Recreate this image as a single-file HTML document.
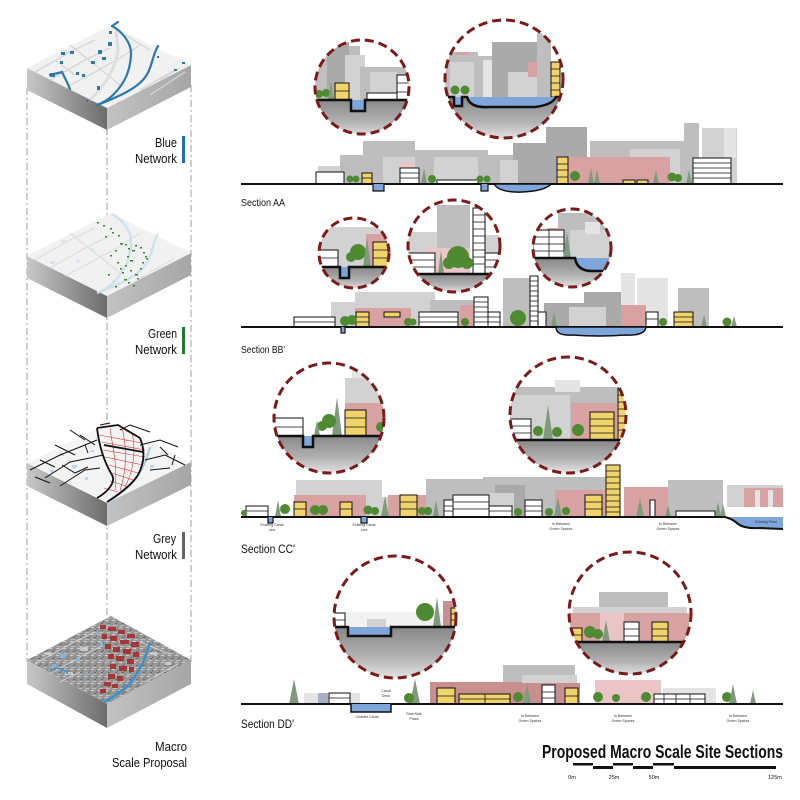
<!DOCTYPE html>
<html><head><meta charset="utf-8"><style>
html,body{margin:0;padding:0;background:#fff;}
svg{display:block}
text{font-family:"Liberation Sans Narrow","Liberation Sans",sans-serif;fill:#111}
.g1{fill:#aaaaaa}.g2{fill:#bebebe}.g3{fill:#d2d2d2}.g4{fill:#e4e4e4}
.pk{fill:#d8a2a2}.pl{fill:#ebc5c5}.pd{fill:#c88f8f}
.yl{fill:#f1d36b;stroke:#111;stroke-width:1}
.wh{fill:#fff;stroke:#111;stroke-width:1}
.wt{fill:#7ea6da}
.t{fill:#4e8a32}.c{fill:#7f9a7c}
.fl{stroke:#111;stroke-width:0.8;fill:none}
.sd{fill:url(#soil)}
.ring{fill:none;stroke:#7a1b1b;stroke-width:3;stroke-dasharray:9 5}
.gl{stroke:#111;stroke-width:2;fill:none}
.gc{stroke:#111;stroke-width:2.5;fill:none}
.sm{font-size:3.6px;text-anchor:middle;fill:#333}
</style></head><body>
<svg width="800" height="800" viewBox="0 0 800 800" xmlns="http://www.w3.org/2000/svg">
<defs>
<linearGradient id="lf" x1="0" y1="0" x2="1" y2="0"><stop offset="0" stop-color="#c8c8c8"/><stop offset="1" stop-color="#6c6c6c"/></linearGradient>
<linearGradient id="rf" x1="0" y1="0" x2="1" y2="0"><stop offset="0" stop-color="#c2c2c2"/><stop offset="1" stop-color="#a6a6a6"/></linearGradient>
<linearGradient id="soil" x1="0" y1="0" x2="0" y2="1"><stop offset="0" stop-color="#888"/><stop offset="0.55" stop-color="#b3b3b3"/><stop offset="1" stop-color="#ececec"/></linearGradient>
<pattern id="sat" width="7" height="7" patternUnits="userSpaceOnUse"><rect width="7" height="7" fill="#979797"/><rect x="0" y="0" width="3" height="1" fill="#cfcfcf"/><rect x="3" y="3" width="2" height="1" fill="#6a6a6a"/><rect x="1" y="5" width="4" height="1" fill="#bdbdbd"/><rect x="5" y="1" width="1" height="2" fill="#777"/></pattern>
<clipPath id="cA1"><circle cx="362" cy="87" r="47"/></clipPath>
<clipPath id="cA2"><circle cx="504" cy="79" r="59"/></clipPath>
<clipPath id="cB1"><circle cx="354" cy="253" r="35"/></clipPath>
<clipPath id="cB2"><circle cx="454" cy="246" r="46"/></clipPath>
<clipPath id="cB3"><circle cx="572" cy="248" r="39"/></clipPath>
<clipPath id="cC1"><circle cx="329" cy="418" r="55"/></clipPath>
<clipPath id="cC2"><circle cx="568" cy="415" r="58"/></clipPath>
<clipPath id="cD1"><circle cx="395" cy="617" r="61"/></clipPath>
<clipPath id="cD2"><circle cx="630" cy="613" r="61"/></clipPath>
</defs>

<!-- ===== LEFT COLUMN ===== -->
<g stroke="#b3b3b3" stroke-width="1.3" stroke-dasharray="7 3 2 3" fill="none">
<line x1="27" y1="88" x2="27" y2="662"/>
<line x1="107" y1="128" x2="107" y2="640"/>
<line x1="191" y1="85" x2="191" y2="662"/>
</g>

<!-- Block 1 -->
<g>
<polygon points="27,68 107,108 107,130 27,90" fill="url(#lf)"/>
<polygon points="107,108 191,65 191,87 107,130" fill="url(#rf)"/>
<polygon points="27,68 107,108 191,65 111,25" fill="#f1f1f1"/>
<g stroke="#d6d6d6" stroke-width="1.3" fill="none">
<path d="M35,72 L70,52 L95,40"/><path d="M50,80 L85,60 L110,48"/><path d="M65,88 L95,72 L120,58 L140,45"/>
<path d="M140,90 L175,70"/><path d="M150,95 L185,72"/><path d="M70,45 L95,65 L120,85"/><path d="M55,60 L75,75"/>
<path d="M160,80 L180,68"/><path d="M125,35 L150,50"/>
<path d="M90,100 C105,85 115,70 118,50 L116,30" stroke="#dedede" stroke-width="3"/>
</g>
<g stroke="#2b7aa9" stroke-width="2.2" fill="none" stroke-linecap="round">
<path d="M112,26 C120,30 132,42 131,55 C130,70 126,82 113,95 C108,100 102,103 97,105"/>
<path d="M158,46 C152,56 152,68 146,76 C138,88 120,96 100,104"/>
<path d="M50,75 L62,72 C65,78 68,84 70,89"/>
<path d="M112,26 L118,22"/>
</g>
<g fill="#2b7aa9">
<rect x="108" y="42" width="4" height="4"/><rect x="109" y="31" width="3" height="3"/><rect x="70" y="51" width="4" height="3"/><rect x="61" y="52" width="4" height="3"/><rect x="98" y="50" width="4" height="4"/><rect x="102" y="57" width="4" height="3"/><rect x="91" y="61" width="4" height="3"/><rect x="60" y="61" width="3" height="3"/><rect x="50" y="73" width="5" height="4"/><rect x="76" y="72" width="3" height="3"/><rect x="82" y="74" width="3" height="3"/><rect x="97" y="86" width="3" height="4"/><rect x="174" y="69" width="3" height="2"/><rect x="182" y="62" width="3" height="2"/><rect x="157" y="56" width="2" height="2"/><rect x="86" y="100" width="2" height="2"/>
</g>
</g>

<!-- Block 2 -->
<g transform="translate(0,188)">
<polygon points="27,68 107,108 107,130 27,90" fill="url(#lf)"/>
<polygon points="107,108 191,65 191,87 107,130" fill="url(#rf)"/>
<polygon points="27,68 107,108 191,65 111,25" fill="#f1f1f1"/>
<g stroke="#dedede" stroke-width="1.2" fill="none">
<path d="M35,72 L70,52 L95,40"/><path d="M50,80 L85,60 L110,48"/><path d="M65,88 L95,72 L120,58 L140,45"/><path d="M140,90 L175,70"/><path d="M70,45 L95,65 L120,85"/>
</g>
<g stroke="#cfe2ec" stroke-width="2.4" fill="none">
<path d="M112,26 C120,30 132,42 131,55 C130,70 126,82 113,95 C108,100 102,103 97,105"/>
<path d="M158,46 C152,56 152,68 146,76 C138,88 120,96 100,104"/>
</g>
<g fill="#d5e6ef"><rect x="61" y="52" width="5" height="3"/><rect x="76" y="72" width="4" height="3"/><rect x="50" y="73" width="5" height="3"/><rect x="90" y="60" width="4" height="3"/></g>
<g fill="#2e8b2e">
<rect x="97" y="34" width="2" height="1.5"/><rect x="103" y="37" width="2" height="1.5"/><rect x="110" y="40" width="2" height="1.5"/><rect x="112" y="44" width="2" height="1.5"/><rect x="118" y="47" width="2" height="1.5"/><rect x="105" y="48" width="2" height="1.5"/><rect x="120" y="55" width="3" height="1.5"/><rect x="125" y="56" width="2" height="1.5"/><rect x="128" y="60" width="2" height="1.5"/><rect x="132" y="62" width="3" height="1.5"/><rect x="135" y="57" width="2" height="1.5"/><rect x="140" y="59" width="2" height="1.5"/><rect x="143" y="64" width="2" height="1.5"/><rect x="145" y="68" width="2" height="1.5"/><rect x="127" y="68" width="2" height="1.5"/><rect x="130" y="72" width="3" height="1.5"/><rect x="125" y="77" width="2" height="1.5"/><rect x="120" y="80" width="2" height="1.5"/><rect x="130" y="82" width="2" height="1.5"/><rect x="135" y="86" width="3" height="1.5"/><rect x="140" y="80" width="2" height="1.5"/><rect x="124" y="91" width="3" height="1.5"/><rect x="128" y="94" width="2" height="1.5"/><rect x="133" y="97" width="2" height="1.5"/><rect x="137" y="90" width="2" height="1.5"/><rect x="142" y="74" width="2" height="1.5"/><rect x="146" y="70" width="2" height="1.5"/><rect x="115" y="62" width="2" height="1.5"/><rect x="110" y="67" width="2" height="1.5"/><rect x="117" y="74" width="2" height="1.5"/><rect x="122" y="84" width="2" height="1.5"/><rect x="115" y="98" width="2" height="1.5"/><rect x="108" y="86" width="2" height="1.5"/>
</g>
</g>

<!-- Block 3 -->
<g transform="translate(0,395)">
<polygon points="27,68 107,108 107,131 27,91" fill="url(#lf)"/>
<polygon points="107,108 191,67 191,90 107,131" fill="url(#rf)"/>
<polygon points="27,68 107,108 191,67 111,27" fill="#f4f4f4"/>
<g fill="#bdd8e7"><rect x="60" y="58" width="4" height="3"/><rect x="72" y="70" width="5" height="3"/><rect x="50" y="75" width="4" height="3"/><rect x="85" y="82" width="3" height="3"/><rect x="150" y="70" width="4" height="3"/><rect x="90" y="55" width="4" height="2"/></g>
<path d="M150,52 C146,68 138,84 125,94 C118,100 112,104 108,108" stroke="#a9cfe3" stroke-width="2.5" fill="none"/>
<g stroke="#111" stroke-width="1" fill="none">
<path d="M30,75 L60,60 L80,52 L97,45"/><path d="M45,83 L70,67 L90,63 L103,60"/><path d="M60,91 L85,75 L100,73"/><path d="M80,40 L95,50"/><path d="M55,50 L75,60"/><path d="M140,50 L160,45 L178,52"/><path d="M145,65 L165,60 L185,70"/><path d="M120,35 L130,30 L150,37"/><path d="M150,75 L170,73"/><path d="M70,35 L85,45"/><path d="M40,65 L55,72"/>
<path d="M35,82 L50,88"/><path d="M62,70 L75,78 L88,72"/><path d="M85,50 L88,58"/><path d="M160,52 L168,60"/><path d="M175,60 L172,70"/><path d="M100,30 L110,28"/>
</g>
<g stroke="#d33" stroke-width="0.6" fill="none">
<path d="M99,40 L142,48"/><path d="M101,47 L145,55"/><path d="M103,55 L145,62"/><path d="M105,62 L143,70"/><path d="M109,70 L138,78"/><path d="M112,78 L133,85"/><path d="M110,86 L126,91"/><path d="M104,93 L118,97"/>
<path d="M110,33 C112,50 118,70 115,95"/><path d="M122,32 C126,50 128,70 120,96"/><path d="M132,38 C136,55 134,75 125,92"/>
</g>
<g stroke="#111" stroke-width="1.8" fill="none">
<path d="M97,33 C99,50 103,65 112,80 C116,87 108,97 97,103"/>
<path d="M140,43 C145,55 145,67 138,80 C132,90 118,100 107,107"/>
<path d="M97,33 L118,30 L140,43"/>
<path d="M104,50 L143,57"/>
</g>
</g>

<!-- Block 4 -->
<g transform="translate(0,592)">
<polygon points="27,68 107,112 107,136 27,92" fill="url(#lf)"/>
<polygon points="107,112 191,68 191,92 107,136" fill="url(#rf)"/>
<polygon points="27,68 107,112 191,68 111,24" fill="url(#sat)"/>
<g stroke="#d8d8d8" stroke-width="1.2" fill="none" opacity="0.8">
<path d="M35,72 L70,52 L95,40"/><path d="M50,82 L85,62 L100,55"/><path d="M145,90 L178,72"/><path d="M140,50 L170,62"/><path d="M60,90 L80,80"/>
</g>
<g fill="#7fb6de"><rect x="60" y="62" width="5" height="4"/><rect x="52" y="72" width="4" height="3"/><rect x="75" y="66" width="5" height="4"/><rect x="100" y="50" width="3" height="4"/><rect x="85" y="80" width="3" height="3"/><rect x="95" y="40" width="3" height="3"/></g>
<g fill="#d5d5d5" opacity="0.8"><rect x="45" y="60" width="6" height="3"/><rect x="65" y="80" width="8" height="3"/><rect x="150" y="60" width="7" height="3"/><rect x="165" y="70" width="6" height="3"/><rect x="80" y="55" width="8" height="4"/></g>
<g fill="#a43838">
<rect x="100" y="33" width="6" height="4"/><rect x="108" y="35" width="8" height="4"/><rect x="118" y="38" width="7" height="4"/><rect x="127" y="42" width="8" height="4"/><rect x="102" y="42" width="5" height="5"/><rect x="110" y="44" width="7" height="5"/><rect x="120" y="48" width="9" height="4"/><rect x="131" y="50" width="8" height="5"/><rect x="105" y="52" width="6" height="5"/><rect x="113" y="55" width="7" height="5"/><rect x="123" y="57" width="8" height="5"/><rect x="133" y="60" width="6" height="5"/><rect x="108" y="62" width="6" height="5"/><rect x="116" y="64" width="8" height="5"/><rect x="127" y="67" width="7" height="5"/><rect x="110" y="72" width="6" height="5"/><rect x="119" y="74" width="8" height="5"/><rect x="129" y="75" width="5" height="5"/><rect x="108" y="82" width="7" height="5"/><rect x="117" y="84" width="6" height="5"/><rect x="104" y="90" width="7" height="4"/><rect x="112" y="92" width="6" height="4"/><rect x="100" y="97" width="6" height="4"/>
</g>
<path d="M150,50 C146,66 138,84 125,96 C118,102 112,106 104,110" stroke="#3f8fc9" stroke-width="2.5" fill="none"/>
<path d="M50,78 C58,75 64,76 68,82" stroke="#3f8fc9" stroke-width="1.5" fill="none"/>
</g>

<!-- left labels -->
<text x="177" y="147" font-size="12.5" text-anchor="end" textLength="22" lengthAdjust="spacingAndGlyphs">Blue</text>
<text x="177" y="163" font-size="12.5" text-anchor="end" textLength="42" lengthAdjust="spacingAndGlyphs">Network</text>
<rect x="182" y="136" width="3" height="27" fill="#1f6fb8"/>
<text x="177" y="338" font-size="12.5" text-anchor="end" textLength="29" lengthAdjust="spacingAndGlyphs">Green</text>
<text x="177" y="354" font-size="12.5" text-anchor="end" textLength="42" lengthAdjust="spacingAndGlyphs">Network</text>
<rect x="182" y="327" width="3" height="27" fill="#1e7a2e"/>
<text x="176" y="543" font-size="12.5" text-anchor="end" textLength="23" lengthAdjust="spacingAndGlyphs">Grey</text>
<text x="177" y="559" font-size="12.5" text-anchor="end" textLength="42" lengthAdjust="spacingAndGlyphs">Network</text>
<rect x="182" y="532" width="3" height="27" fill="#666"/>
<text x="187" y="751" font-size="12.5" text-anchor="end" textLength="32" lengthAdjust="spacingAndGlyphs">Macro</text>
<text x="187" y="767" font-size="12.5" text-anchor="end" textLength="75" lengthAdjust="spacingAndGlyphs">Scale Proposal</text>

<!-- ===== SECTION AA ===== -->
<g>
<rect class="g3" x="318" y="166" width="22" height="18"/>
<rect class="g2" x="340" y="155" width="25" height="29"/>
<rect class="g2" x="363" y="141" width="52" height="43"/>
<rect class="g3" x="383" y="157" width="32" height="27"/>
<rect class="g2" x="415" y="150" width="73" height="34"/>
<rect class="g3" x="434" y="157" width="44" height="27"/>
<rect class="g2" x="488" y="155" width="25" height="29"/>
<rect class="g1" x="513" y="143" width="33" height="41"/>
<rect class="g3" x="500" y="160" width="18" height="24"/>
<rect class="g1" x="546" y="127" width="41" height="57"/>
<rect class="g2" x="590" y="141" width="94" height="43"/>
<rect class="g3" x="630" y="149" width="50" height="35"/>
<rect class="g2" x="684" y="123" width="15" height="61"/>
<rect class="g3" x="702" y="128" width="35" height="56"/>
<rect class="g4" x="724" y="128" width="12" height="30"/>
<rect class="pk" x="557" y="157" width="113" height="27"/>
<rect class="pl" x="400" y="162" width="14" height="6"/>
<rect class="wh" x="316" y="172" width="28" height="12"/>
<rect class="wh" x="400" y="168" width="19" height="16"/><path class="fl" d="M400,173h19M400,178h19"/>
<rect class="wh" x="437" y="180" width="41" height="4"/>
<rect class="yl" x="362" y="173" width="10" height="11"/><path class="fl" d="M362,178h10"/>
<rect class="yl" x="557" y="157" width="11" height="27"/><path class="fl" d="M557,164h11M557,170h11M557,177h11"/>
<rect class="yl" x="623" y="180" width="12" height="4"/><rect class="yl" x="637" y="180" width="11" height="4"/>
<rect class="wh" x="693" y="158" width="38" height="26"/><path class="fl" d="M693,163h38M693,168h38M693,173h38M693,178h38"/>
<circle class="t" cx="350" cy="179" r="3.5"/><circle class="t" cx="356" cy="179" r="3.5"/>
<polygon class="c" points="424,168 427,184 421,184"/><circle class="t" cx="432" cy="179" r="4"/>
<circle class="t" cx="480" cy="179" r="3.5"/><circle class="t" cx="487" cy="179" r="3.5"/>
<circle class="t" cx="575" cy="176" r="5"/>
<polygon class="c" points="591,168 594,184 588,184"/><polygon class="c" points="597,170 600,184 594,184"/>
<polygon class="c" points="656,170 659,184 653,184"/><circle class="t" cx="672" cy="177" r="4.5"/><circle class="t" cx="678" cy="178" r="4"/><polygon class="c" points="689,170 692,184 686,184"/>
<line class="gl" x1="241" y1="184" x2="783" y2="184"/>
<path d="M373,184 V191 H384 V184" class="wt" stroke="#111" stroke-width="1.2"/>
<path d="M481,184 V191 H488 V184" class="wt" stroke="#111" stroke-width="1.2"/>
<path d="M494,184 Q500,193 522,192 Q545,191 551,184 Z" class="wt" stroke="#111" stroke-width="1.5"/>
</g>
<text x="241" y="206" font-size="10" textLength="44" lengthAdjust="spacingAndGlyphs">Section AA</text>

<!-- AA circle 1 -->
<g clip-path="url(#cA1)">
<rect x="310" y="35" width="105" height="70" fill="#fff"/>
<rect class="g2" x="313" y="46" width="47" height="54"/>
<rect class="g1" x="327" y="41" width="22" height="59"/>
<rect class="g3" x="345" y="55" width="20" height="45"/>
<rect class="g2" x="360" y="67" width="50" height="33"/>
<rect class="g3" x="370" y="72" width="27" height="21"/>
<rect class="wh" x="367" y="93" width="30" height="7"/>
<rect class="wh" x="397" y="75" width="14" height="25"/><path class="fl" d="M397,83h14M397,92h14"/>
<rect class="yl" x="335" y="83" width="14" height="17"/><path class="fl" d="M335,91h14"/>
<circle class="t" cx="319" cy="94" r="4"/><circle class="t" cx="326" cy="93" r="4"/>
<polygon class="c" points="331,82 334,100 328,100"/>
<rect class="sd" x="310" y="100" width="105" height="40"/>
<rect class="wt" x="351" y="100" width="14" height="11"/>
<path class="gc" d="M310,100 H351 V111 H365 V100 H415"/>
</g>
<circle class="ring" cx="362" cy="87" r="47"/>

<!-- AA circle 2 -->
<g clip-path="url(#cA2)">
<rect x="440" y="15" width="130" height="130" fill="#fff"/>
<rect class="g2" x="445" y="52" width="33" height="45"/>
<rect class="g3" x="450" y="62" width="24" height="35"/>
<rect class="pk" x="455" y="52" width="14" height="3"/>
<rect class="g2" x="478" y="56" width="30" height="41"/>
<rect class="g4" x="483" y="60" width="10" height="37"/>
<rect class="g1" x="492" y="42" width="45" height="55"/>
<rect class="g3" x="508" y="72" width="30" height="25"/>
<rect class="g2" x="537" y="33" width="14" height="64"/>
<rect class="pk" x="528" y="62" width="9" height="15"/>
<rect class="yl" x="551" y="62" width="9" height="35"/><path class="fl" d="M551,69h9M551,76h9M551,83h9M551,90h9"/>
<circle class="t" cx="455" cy="90" r="4.5"/><circle class="t" cx="465" cy="90" r="4.5"/>
<rect class="sd" x="440" y="97" width="130" height="45"/>
<path d="M467,97 Q470,108 488,107 L535,107 Q552,105 556,97 Z" class="wt"/>
<rect class="wt" x="454" y="97" width="8" height="9"/>
<path class="gc" d="M440,97 H454 V106 H462 V97 H467 Q470,108 488,107 L535,107 Q552,105 556,97 H570"/>
</g>
<circle class="ring" cx="504" cy="79" r="59"/>

<!-- ===== SECTION BB ===== -->
<g>
<rect class="g3" x="331" y="302" width="25" height="25"/>
<rect class="g3" x="355" y="292" width="80" height="35"/>
<rect class="g2" x="430" y="300" width="45" height="27"/>
<rect class="pk" x="355" y="308" width="56" height="19"/>
<rect class="g2" x="503" y="278" width="27" height="49"/>
<rect class="g1" x="544" y="303" width="40" height="24"/>
<rect class="g1" x="584" y="292" width="37" height="35"/>
<rect class="g3" x="569" y="307" width="37" height="20"/>
<rect class="g4" x="621" y="273" width="14" height="54"/>
<rect class="g4" x="637" y="278" width="31" height="49"/>
<rect class="g2" x="678" y="288" width="31" height="39"/>
<rect class="pk" x="621" y="305" width="25" height="22"/>
<rect class="pk" x="460" y="305" width="14" height="22"/>
<rect class="wh" x="294" y="317" width="41" height="10"/><path class="fl" d="M294,322h41"/>
<rect class="yl" x="356" y="312" width="13" height="15"/><path class="fl" d="M356,317h13M356,322h13"/>
<rect class="yl" x="384" y="312" width="16" height="5"/>
<rect class="wh" x="419" y="312" width="39" height="15"/><path class="fl" d="M419,317h39M419,322h39"/>
<rect class="wh" x="474" y="297" width="14" height="30"/><path class="fl" d="M474,302h14M474,307h14M474,312h14M474,317h14M474,322h14"/>
<rect class="wh" x="488" y="312" width="12" height="15"/><path class="fl" d="M488,317h12M488,322h12"/>
<rect class="wh" x="530" y="276" width="8" height="51"/><path class="fl" d="M530,281h8M530,286h8M530,291h8M530,296h8M530,301h8M530,306h8M530,311h8M530,316h8M530,321h8"/>
<rect class="wh" x="538" y="312" width="8" height="15"/>
<rect class="wh" x="646" y="312" width="12" height="15"/><path class="fl" d="M646,319h12"/>
<rect class="yl" x="674" y="312" width="19" height="15"/><path class="fl" d="M674,317h19M674,322h19"/>
<circle class="t" cx="345" cy="321" r="5"/><circle class="t" cx="352" cy="320" r="5"/>
<circle class="t" cx="408" cy="322" r="4"/><circle class="t" cx="413" cy="322" r="3.5"/>
<circle class="t" cx="465" cy="322" r="4"/>
<circle class="t" cx="518" cy="318" r="8"/>
<polygon class="c" points="554,312 557,327 551,327"/>
<circle class="t" cx="663" cy="322" r="4"/>
<polygon class="c" points="704,315 707,327 701,327"/>
<circle class="t" cx="727" cy="322" r="4.5"/><polygon class="c" points="734,316 737,327 731,327"/>
<line class="gl" x1="241" y1="327" x2="783" y2="327"/>
<path d="M341,327 V333 H345 V327" class="wt" stroke="#111" stroke-width="1.2"/>
<path d="M556,327 Q556,336 572,335 Q600,337 625,335 Q645,336 646,327 Z" class="wt" stroke="#111" stroke-width="1.5"/>
</g>
<text x="241" y="353" font-size="10" textLength="44" lengthAdjust="spacingAndGlyphs">Section BB'</text>

<!-- BB circle 1 -->
<g clip-path="url(#cB1)">
<rect x="315" y="215" width="80" height="80" fill="#fff"/>
<rect class="g3" x="319" y="227" width="70" height="40"/>
<rect class="pk" x="366" y="234" width="23" height="33"/>
<rect class="wh" x="317" y="250" width="21" height="17"/><path class="fl" d="M317,258h21"/>
<rect class="yl" x="373" y="242" width="16" height="25"/><path class="fl" d="M373,250h16M373,258h16"/>
<circle class="t" cx="358" cy="252" r="8"/><circle class="t" cx="351" cy="257" r="5"/>
<polygon class="c" points="367,238 371,267 363,267"/>
<rect class="sd" x="315" y="267" width="80" height="25"/>
<rect class="wt" x="340" y="267" width="9" height="11"/>
<path class="gc" d="M315,267 H340 V278 H349 V267 H395"/>
</g>
<circle class="ring" cx="354" cy="253" r="35"/>

<!-- BB circle 2 -->
<g clip-path="url(#cB2)">
<rect x="405" y="195" width="100" height="100" fill="#fff"/>
<rect class="g3" x="408" y="232" width="30" height="42"/>
<rect class="g2" x="437" y="205" width="33" height="69"/>
<rect class="pl" x="425" y="248" width="45" height="26"/>
<rect class="g3" x="485" y="235" width="18" height="18"/>
<rect class="wh" x="408" y="253" width="27" height="21"/><path class="fl" d="M408,260h27M408,267h27"/>
<rect class="wh" x="473" y="208" width="12" height="66"/><path class="fl" d="M473,215h12M473,222h12M473,229h12M473,236h12M473,243h12M473,250h12M473,257h12M473,264h12"/>
<rect class="wh" x="485" y="253" width="17" height="21"/><path class="fl" d="M485,260h17M485,267h17"/>
<polygon class="c" points="441,250 444,274 438,274"/>
<circle class="t" cx="458" cy="257" r="11"/><circle class="t" cx="449" cy="263" r="6"/><circle class="t" cx="467" cy="263" r="6"/>
<rect class="sd" x="405" y="274" width="100" height="20"/>
<path class="gc" d="M405,274 H505"/>
</g>
<circle class="ring" cx="454" cy="246" r="46"/>

<!-- BB circle 3 -->
<g clip-path="url(#cB3)">
<rect x="530" y="205" width="85" height="85" fill="#fff"/>
<rect class="g2" x="558" y="213" width="52" height="45"/>
<rect class="g3" x="570" y="230" width="42" height="40"/>
<rect class="g4" x="585" y="222" width="15" height="12"/>
<rect class="pk" x="547" y="228" width="17" height="30"/>
<rect class="wh" x="533" y="230" width="31" height="28"/><path class="fl" d="M533,237h31M533,244h31M533,251h31M549,230v28"/>
<polygon class="c" points="567,232 571,258 563,258"/>
<rect class="sd" x="530" y="258" width="85" height="32"/>
<path d="M575,258 Q577,271 592,271 L615,271 L615,258 Z" class="wt"/>
<path class="gc" d="M530,258 H575 Q577,271 592,271 L615,271"/>
</g>
<circle class="ring" cx="572" cy="248" r="39"/>

<!-- ===== SECTION CC ===== -->
<g>
<rect class="g3" x="296" y="480" width="86" height="37"/>
<rect class="g2" x="426" y="479" width="57" height="38"/>
<rect class="g2" x="483" y="477" width="123" height="40"/>
<rect class="g1" x="495" y="485" width="30" height="32"/>
<rect class="g2" x="668" y="480" width="55" height="37"/>
<rect class="g3" x="727" y="485" width="56" height="22"/>
<rect class="pk" x="744" y="488" width="39" height="19"/>
<rect class="g4" x="755" y="490" width="5" height="17"/><rect class="g4" x="768" y="490" width="5" height="17"/>
<rect class="pk" x="294" y="495" width="72" height="22"/>
<rect class="g3" x="382" y="497" width="20" height="20"/>
<rect class="pk" x="388" y="495" width="38" height="22"/>
<rect class="pk" x="555" y="490" width="50" height="27"/>
<rect class="pk" x="624" y="487" width="44" height="30"/>
<rect class="g3" x="489" y="493" width="25" height="24"/>
<rect class="wh" x="246" y="506" width="22" height="11"/><path class="fl" d="M246,511h22"/>
<rect class="yl" x="294" y="502" width="12" height="15"/><path class="fl" d="M294,509h12"/>
<rect class="yl" x="340" y="502" width="12" height="15"/><path class="fl" d="M340,509h12"/>
<rect class="yl" x="400" y="495" width="17" height="22"/><path class="fl" d="M400,502h17M400,509h17"/>
<rect class="wh" x="444" y="500" width="10" height="17"/><path class="fl" d="M444,506h10M444,511h10"/>
<rect class="wh" x="453" y="495" width="36" height="22"/><path class="fl" d="M453,502h36M453,509h36"/>
<rect class="wh" x="489" y="506" width="23" height="11"/><path class="fl" d="M489,511h23"/>
<rect class="wh" x="525" y="500" width="17" height="17"/><path class="fl" d="M525,506h17M525,511h17"/>
<rect class="yl" x="585" y="495" width="17" height="22"/><path class="fl" d="M585,502h17M585,509h17"/>
<rect class="yl" x="606" y="465" width="14" height="52"/><path class="fl" d="M606,471h14M606,477h14M606,483h14M606,489h14M606,495h14M606,501h14M606,507h14M606,512h14"/>
<rect class="wh" x="650" y="500" width="5" height="17"/>
<rect class="wh" x="676" y="511" width="39" height="6"/>
<circle class="t" cx="244" cy="513" r="3"/>
<polygon class="c" points="278,500 281,517 275,517"/><circle class="t" cx="285" cy="509" r="5"/>
<circle class="t" cx="315" cy="510" r="5"/><circle class="t" cx="323" cy="510" r="5"/>
<circle class="t" cx="368" cy="510" r="4.5"/><circle class="t" cx="375" cy="511" r="4"/>
<polygon class="c" points="385,496 389,517 381,517"/>
<circle class="t" cx="422" cy="511" r="4"/><circle class="t" cx="428" cy="511" r="4"/>
<polygon class="c" points="436,500 439,517 433,517"/>
<circle class="t" cx="518" cy="512" r="4"/>
<circle class="t" cx="549" cy="512" r="4"/><polygon class="c" points="558,497 562,517 554,517"/><circle class="t" cx="566" cy="511" r="4"/>
<polygon class="c" points="640,499 644,517 636,517"/>
<polygon class="c" points="668,505 671,517 665,517"/>
<polygon class="c" points="718,502 721,517 715,517"/><polygon class="c" points="723,504 726,517 720,517"/>
<line class="gl" x1="241" y1="517" x2="725" y2="517"/>
<path d="M268,517 V523 H273 V517" class="wt" stroke="#111" stroke-width="1.2"/>
<path d="M361,517 V523 H367 V517" class="wt" stroke="#111" stroke-width="1.2"/>
<path d="M725,517 Q733,519 738,524 Q745,529 760,528 L783,529 L783,517 Z" class="wt"/>
<path d="M725,517 Q733,519 738,524 Q745,529 760,528 L783,529" class="gl"/>
</g>
<text class="sm" x="272" y="526">Existing Canal</text><text class="sm" x="272" y="531">Line</text>
<text class="sm" x="364" y="526">Existing Canal</text><text class="sm" x="364" y="531">Line</text>
<text class="sm" x="561" y="525">In Between</text><text class="sm" x="561" y="530">Green Spaces</text>
<text class="sm" x="668" y="525">In Between</text><text class="sm" x="668" y="530">Green Spaces</text>
<text class="sm" x="766" y="523">Existing Pond</text>
<text x="241" y="553" font-size="12" textLength="54" lengthAdjust="spacingAndGlyphs">Section CC'</text>

<!-- CC circle 1 -->
<g clip-path="url(#cC1)">
<rect x="270" y="360" width="120" height="120" fill="#fff"/>
<rect class="g4" x="352" y="365" width="30" height="25"/>
<rect class="g3" x="345" y="378" width="40" height="58"/>
<rect class="pk" x="345" y="403" width="40" height="33"/>
<rect class="wh" x="272" y="418" width="31" height="18"/><path class="fl" d="M272,427h31"/>
<rect class="yl" x="345" y="410" width="21" height="26"/><path class="fl" d="M345,418h21M345,427h21"/>
<polygon class="c" points="337,397 342,436 332,436"/>
<circle class="t" cx="329" cy="421" r="7"/><circle class="t" cx="322" cy="426" r="5"/>
<polygon class="c" points="317,420 320,436 314,436"/>
<circle class="t" cx="381" cy="427" r="5"/>
<rect class="sd" x="270" y="436" width="120" height="40"/>
<rect class="wt" x="303" y="436" width="10" height="11"/>
<path class="gc" d="M270,436 H303 V447 H313 V436 H390"/>
</g>
<circle class="ring" cx="329" cy="418" r="55"/>

<!-- CC circle 2 -->
<g clip-path="url(#cC2)">
<rect x="505" y="355" width="125" height="120" fill="#fff"/>
<rect class="g2" x="508" y="387" width="110" height="53"/>
<rect class="g4" x="555" y="380" width="25" height="12"/>
<rect class="g3" x="508" y="395" width="62" height="45"/>
<rect class="pk" x="571" y="403" width="46" height="37"/>
<rect class="yl" x="590" y="412" width="24" height="28"/><path class="fl" d="M590,419h24M590,426h24M590,433h24"/>
<rect class="yl" x="618" y="388" width="9" height="52"/><path class="fl" d="M618,395h9M618,402h9M618,409h9M618,416h9M618,423h9M618,430h9"/>
<rect class="wh" x="508" y="419" width="23" height="21"/><path class="fl" d="M508,426h23M508,433h23"/>
<polygon class="c" points="548,405 553,440 543,440"/>
<circle class="t" cx="538" cy="431" r="5"/><circle class="t" cx="557" cy="432" r="5"/><circle class="t" cx="578" cy="430" r="6"/>
<rect class="sd" x="505" y="440" width="125" height="35"/>
<path class="gc" d="M505,440 H630"/>
</g>
<circle class="ring" cx="568" cy="415" r="58"/>

<!-- ===== SECTION DD ===== -->
<g>
<rect class="g2" x="503" y="665" width="72" height="39"/>
<rect class="g3" x="522" y="675" width="55" height="29"/>
<rect class="g4" x="304" y="693" width="56" height="11"/>
<rect fill="#a8b0cc" x="318" y="693" width="10" height="11"/>
<rect class="wh" x="329" y="693" width="21" height="11"/><path class="fl" d="M329,698h21"/>
<rect class="pd" x="430" y="682" width="92" height="22"/>
<rect class="pd" x="522" y="683" width="58" height="21"/>
<rect class="pl" x="595" y="680" width="66" height="24"/>
<rect class="g4" x="663" y="688" width="53" height="16"/>
<rect class="yl" x="437" y="688" width="18" height="16"/><path class="fl" d="M437,696h18"/>
<rect class="yl" x="459" y="694" width="51" height="10"/><path class="fl" d="M459,699h51M485,694v10"/>
<rect class="wh" x="542" y="685" width="13" height="19"/><path class="fl" d="M542,692h13M542,698h13"/>
<rect class="yl" x="565" y="688" width="13" height="16"/><path class="fl" d="M565,696h13"/>
<rect class="wh" x="654" y="694" width="51" height="10"/><path class="fl" d="M654,699h51M664,694v10M676,694v10M690,694v10"/>
<polygon class="c" points="294,679 299,704 289,704"/>
<polygon class="c" points="415,679 420,704 410,704"/><circle class="t" cx="409" cy="698" r="5"/>
<circle class="t" cx="518" cy="697" r="5"/><polygon class="c" points="527,684 531,704 523,704"/>
<circle class="t" cx="598" cy="697" r="5"/><circle class="t" cx="616" cy="698" r="4"/>
<circle class="t" cx="646" cy="697" r="5"/>
<circle class="t" cx="727" cy="697" r="5"/><polygon class="c" points="733,684 737,704 729,704"/>
<polygon class="c" points="753,690 756,704 750,704"/>
<line class="gl" x1="241" y1="704" x2="783" y2="704"/>
<path d="M351,704 V712 H391 V704" class="wt" stroke="#111" stroke-width="1.5"/>
</g>
<text class="sm" x="386" y="692">Canal</text><text class="sm" x="386" y="697">Deck</text>
<text class="sm" x="367" y="718">Chalder Canal</text>
<text class="sm" x="414" y="715">RiverSide</text><text class="sm" x="414" y="720">Plaza</text>
<text class="sm" x="530" y="717">In Between</text><text class="sm" x="530" y="722">Green Spaces</text>
<text class="sm" x="623" y="717">In Between</text><text class="sm" x="623" y="722">Green Spaces</text>
<text class="sm" x="738" y="717">In Between</text><text class="sm" x="738" y="722">Green Spaces</text>
<text x="241" y="728" font-size="12" textLength="53" lengthAdjust="spacingAndGlyphs">Section DD'</text>

<!-- DD circle 1 -->
<g clip-path="url(#cD1)">
<rect x="330" y="552" width="130" height="130" fill="#fff"/>
<rect fill="#f2f2f2" x="335" y="612" width="110" height="15"/>
<rect class="g3" x="367" y="619" width="19" height="8"/>
<rect class="wh" x="330" y="613" width="15" height="14"/><path class="fl" d="M330,620h15"/>
<rect class="pd" x="443" y="601" width="18" height="26"/>
<rect class="yl" x="451" y="608" width="9" height="19"/><path class="fl" d="M451,614h9M451,620h9"/>
<circle class="t" cx="425" cy="612" r="9"/><polygon class="c" points="437,597 441,627 433,627"/>
<rect class="sd" x="330" y="627" width="130" height="55"/>
<rect class="wt" x="348" y="627" width="43" height="9"/>
<path class="gc" d="M330,627 H348 V636 H391 V627 H460"/>
</g>
<circle class="ring" cx="395" cy="617" r="61"/>

<!-- DD circle 2 -->
<g clip-path="url(#cD2)">
<rect x="565" y="548" width="130" height="130" fill="#fff"/>
<rect class="g2" x="599" y="592" width="69" height="30"/>
<rect class="g3" x="573" y="607" width="114" height="20"/>
<rect class="pk" x="567" y="613" width="122" height="29"/>
<rect class="pl" x="600" y="613" width="24" height="29"/>
<rect class="yl" x="567" y="628" width="15" height="14"/><path class="fl" d="M567,635h15"/>
<rect class="wh" x="624" y="622" width="15" height="20"/><path class="fl" d="M624,629h15M624,636h15"/>
<rect class="yl" x="652" y="622" width="16" height="20"/><path class="fl" d="M652,629h16M652,636h16"/>
<circle class="t" cx="590" cy="632" r="6"/><circle class="t" cx="598" cy="634" r="5"/><polygon class="c" points="606,620 610,642 602,642"/>
<rect class="sd" x="565" y="642" width="130" height="36"/>
<path class="gc" d="M565,642 H695"/>
</g>
<circle class="ring" cx="630" cy="613" r="61"/>

<!-- ===== TITLE & SCALE ===== -->
<text x="542" y="758" font-size="18" font-weight="bold" textLength="241" lengthAdjust="spacingAndGlyphs" style="font-family:'Liberation Sans Narrow','Liberation Sans',sans-serif">Proposed Macro Scale Site Sections</text>
<g fill="#111">
<rect x="573" y="763" width="20" height="2.5"/><rect x="613" y="763" width="20" height="2.5"/><rect x="653" y="763" width="21" height="2.5"/>
<rect x="593" y="766" width="20" height="3"/><rect x="633" y="766" width="20" height="3"/><rect x="674" y="766" width="102" height="3"/>
</g>
<g font-size="5.5" text-anchor="middle" fill="#333">
<text x="572" y="779">0m</text><text x="614" y="779">25m</text><text x="654" y="779">50m</text><text x="775" y="779">125m</text>
</g>
</svg>
</body></html>
